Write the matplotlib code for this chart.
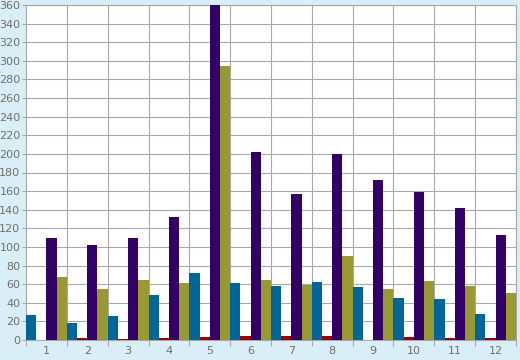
import numpy as np
import matplotlib
matplotlib.use('Agg')
import matplotlib.pyplot as plt

groups = ['1', '2', '3', '4', '5', '6', '7', '8', '9', '10', '11', '12']
blue = [27, 18, 26, 48, 72, 61, 58, 62, 57, 45, 44, 28]
red = [0.5, 2.5, 1.5, 2.5, 3.2, 4.3, 4.3, 4.3, 0.5, 3.6, 2.5, 2.5]
purple = [110, 102, 110, 132, 370, 202, 157, 200, 172, 159, 142, 113]
olive = [68, 55, 64, 61, 294, 65, 59, 90, 55, 63, 58, 51]

series = [blue, red, purple, olive]
colors = ['#006699', '#990000', '#330066', '#999933']

bg = '#d9eef6'
grid = '#a9a9a9'
txt = '#707070'

fig = plt.figure(figsize=(5.2, 3.6), dpi=100, facecolor=bg)
ax = fig.add_axes([26/520, 20/360, 490/520, 335/360])
ax.set_facecolor('white')

x = np.arange(len(groups))
w = 0.25
for i, (vals, c) in enumerate(zip(series, colors)):
    ax.bar(x + i*w, vals, width=w, align='edge', color=c, zorder=3, linewidth=0)

ax.set_xlim(0, len(groups))
ax.set_ylim(0, 360)
ax.set_yticks(np.arange(0, 361, 20))
ax.set_xticks(np.arange(0, len(groups)+1))
ax.set_xticklabels([])
ax.set_xticks(x + 0.5, minor=True)
ax.set_xticklabels(groups, minor=True)
ax.tick_params(axis='x', which='minor', length=0, pad=4)
ax.tick_params(axis='x', which='major', length=4, color=grid, width=0.8)
ax.tick_params(axis='y', length=3, color=grid, width=0.8, pad=1)
ax.tick_params(which='both', labelsize=8, labelcolor=txt)
ax.grid(True, which='major', color=grid, linewidth=0.8, zorder=0)
for s in ax.spines.values():
    s.set_color(grid)
    s.set_linewidth(0.8)

fig.savefig('out.png', dpi=100, facecolor=bg)
